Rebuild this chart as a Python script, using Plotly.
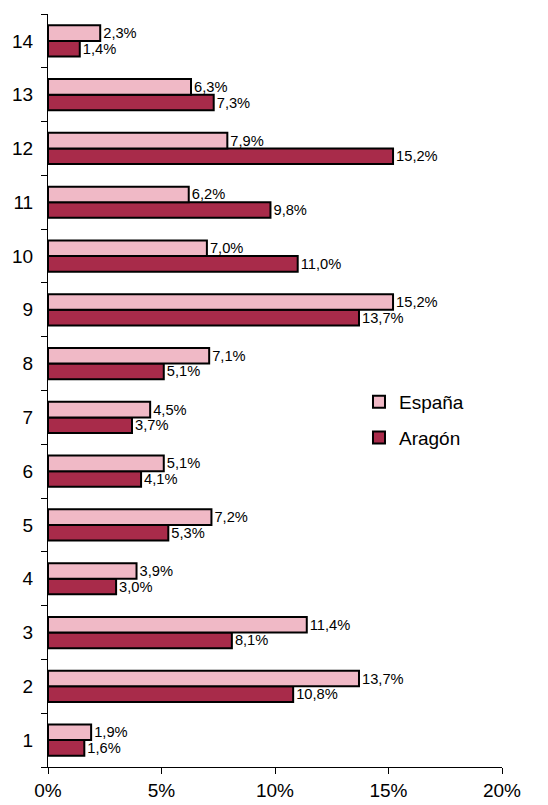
import plotly.graph_objects as go

categories = [str(i) for i in range(1, 15)]
espana = [1.9, 13.7, 11.4, 3.9, 7.2, 5.1, 4.5, 7.1, 15.2, 7.0, 6.2, 7.9, 6.3, 2.3]
aragon = [1.6, 10.8, 8.1, 3.0, 5.3, 4.1, 3.7, 5.1, 13.7, 11.0, 9.8, 15.2, 7.3, 1.4]
x_ticks = [0, 5, 10, 15, 20]
x_tick_labels = ["0%", "5%", "10%", "15%", "20%"]

def fmt(v):
    return f"{v:.1f}".replace(".", ",") + "%"

fig = go.Figure()
fig.add_trace(go.Bar(
    y=categories, x=aragon, orientation="h", name="Aragón",
    marker=dict(color="#A82B4A", line=dict(color="black", width=2)),
    text=[fmt(v) for v in aragon], textposition="outside",
    textfont=dict(size=16, color="black"), cliponaxis=False, legendrank=2,
    legendgroup="a",
))
fig.add_trace(go.Bar(
    y=categories, x=espana, orientation="h", name="España",
    marker=dict(color="#F0B9C6", line=dict(color="black", width=2)),
    text=[fmt(v) for v in espana], textposition="outside",
    textfont=dict(size=16, color="black"), cliponaxis=False, legendrank=1,
    legendgroup="e",
))

fig.update_layout(
    width=548, height=805,
    margin=dict(l=48, r=46, t=14, b=38),
    paper_bgcolor="white", plot_bgcolor="white",
    barmode="group", bargap=0.42, bargroupgap=0,
    font=dict(family="Liberation Sans, Arial", color="black"),
    showlegend=True,
    legend=dict(x=0.685, y=0.51, xanchor="left", yanchor="top",
                font=dict(size=19), bgcolor="rgba(0,0,0,0)",
                traceorder="grouped", tracegroupgap=8),
    uniformtext=dict(mode=False),
)
fig.update_xaxes(
    range=[0, 20], tickvals=x_ticks, ticktext=x_tick_labels,
    showgrid=False, zeroline=False, showline=True, linecolor="black", linewidth=1,
    ticks="outside", ticklen=6, tickcolor="black", tickfont=dict(size=19),
    automargin=False,
)
fig.update_yaxes(
    type="category", categoryorder="array", categoryarray=categories,
    tickson="boundaries", ticks="outside", ticklen=6, tickcolor="black",
    showgrid=False, showline=True, linecolor="black", linewidth=1,
    tickfont=dict(size=19), ticklabelstandoff=10, automargin=False,
)

fig.write_html("out.html", config={"displayModeBar": False},
               post_script="document.body.style.margin='0';")
